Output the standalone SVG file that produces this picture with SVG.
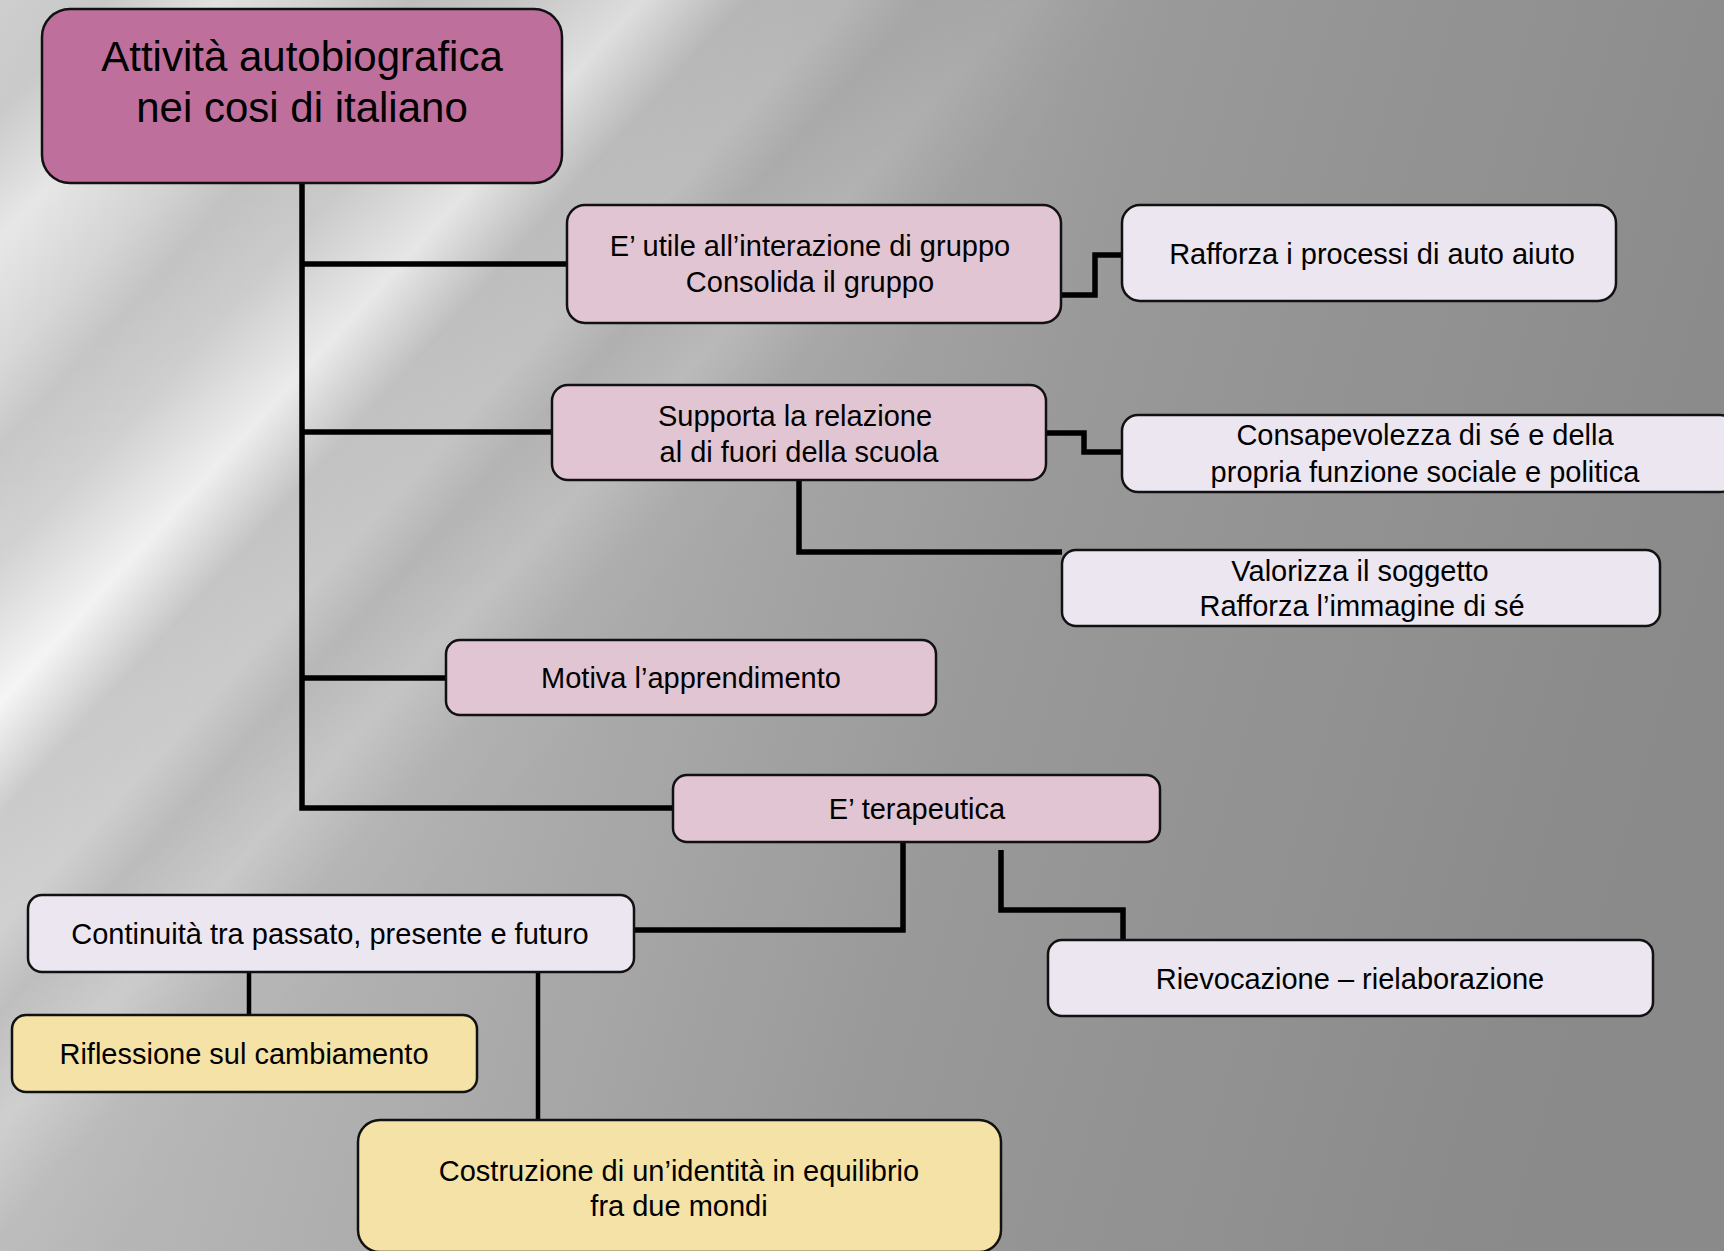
<svg xmlns="http://www.w3.org/2000/svg" width="1724" height="1251" viewBox="0 0 1724 1251">
<defs>
<linearGradient id="bg" x1="0" y1="0" x2="1724" y2="500" gradientUnits="userSpaceOnUse">
<stop offset="0" stop-color="#c6c6c6"/>
<stop offset="0.35" stop-color="#b0b0b0"/>
<stop offset="0.65" stop-color="#989898"/>
<stop offset="1" stop-color="#8a8a8a"/>
</linearGradient>
<linearGradient id="streak" x1="0" y1="0" x2="700" y2="640" gradientUnits="userSpaceOnUse">
<stop offset="0" stop-color="#fff" stop-opacity="0.15"/>
<stop offset="0.08" stop-color="#fff" stop-opacity="0.1"/>
<stop offset="0.17" stop-color="#fff" stop-opacity="0.6"/>
<stop offset="0.26" stop-color="#fff" stop-opacity="0.35"/>
<stop offset="0.32" stop-color="#fff" stop-opacity="0.1"/>
<stop offset="0.4" stop-color="#fff" stop-opacity="0.3"/>
<stop offset="0.5" stop-color="#fff" stop-opacity="0.85"/>
<stop offset="0.58" stop-color="#fff" stop-opacity="0.2"/>
<stop offset="0.66" stop-color="#fff" stop-opacity="0.3"/>
<stop offset="0.72" stop-color="#fff" stop-opacity="0.05"/>
<stop offset="0.8" stop-color="#fff" stop-opacity="0.3"/>
<stop offset="0.88" stop-color="#fff" stop-opacity="0.05"/>
<stop offset="1" stop-color="#fff" stop-opacity="0"/>
</linearGradient>
<linearGradient id="fade" x1="0" y1="0" x2="1724" y2="0" gradientUnits="userSpaceOnUse">
<stop offset="0" stop-color="#fff" stop-opacity="1"/>
<stop offset="0.45" stop-color="#fff" stop-opacity="0.6"/>
<stop offset="0.7" stop-color="#fff" stop-opacity="0"/>
</linearGradient>
<mask id="m"><rect width="1724" height="1251" fill="url(#fade)"/></mask>
</defs>
<style>
.box{stroke:#111;stroke-width:2.5}
.root{fill:#be6f9b}
.pink{fill:#e2c5d3}
.lav{fill:#ebe6f0}
.yel{fill:#f5e2a6}
text{font-family:"Liberation Sans",Arial,sans-serif;fill:#000;text-anchor:middle}
.t{font-size:29px}
.tt{font-size:42px}
.c{fill:none;stroke:#000;stroke-width:5.5;stroke-linejoin:miter}
.c2{fill:none;stroke:#000;stroke-width:4.5}
</style>
<rect width="1724" height="1251" fill="url(#bg)"/>
<rect width="1724" height="1251" fill="url(#streak)" mask="url(#m)"/>

<g id="connectors">
<path class="c" d="M302 183 V808 H672"/>
<path class="c" d="M302 264 H567"/>
<path class="c" d="M302 432 H552"/>
<path class="c" d="M302 678 H446"/>
<path class="c" d="M1061 295 H1095 V255 H1121"/>
<path class="c" d="M1046 433 H1084 V452 H1121"/>
<path class="c" d="M799 480 V552 H1062"/>
<path class="c" d="M903 842 V930 H634"/>
<path class="c" d="M1001 850 V910 H1123 V940"/>
<path class="c2" d="M249 972 V1015"/>
<path class="c2" d="M538 972 V1119"/>
</g>

<g id="root">
<rect class="box root" x="42" y="9" width="520" height="174" rx="28"/>
<text class="tt" x="302" y="71">Attività autobiografica</text>
<text class="tt" x="302" y="122">nei cosi di italiano</text>
</g>
<g id="n1">
<rect class="box pink" x="567" y="205" width="494" height="118" rx="18"/>
<text class="t" x="810" y="256">E’ utile all’interazione di gruppo</text>
<text class="t" x="810" y="292">Consolida il gruppo</text>
</g>
<g id="n1a">
<rect class="box lav" x="1122" y="205" width="494" height="96" rx="18"/>
<text class="t" x="1372" y="264">Rafforza i processi di auto aiuto</text>
</g>
<g id="n2">
<rect class="box pink" x="552" y="385" width="494" height="95" rx="16"/>
<text class="t" x="795" y="426">Supporta la relazione</text>
<text class="t" x="799" y="462">al di fuori della scuola</text>
</g>
<g id="n2a">
<rect class="box lav" x="1122" y="415" width="614" height="77" rx="16"/>
<text class="t" x="1425" y="445">Consapevolezza di sé e della</text>
<text class="t" x="1425" y="482">propria funzione sociale e politica</text>
</g>
<g id="n2b">
<rect class="box lav" x="1062" y="550" width="598" height="76" rx="14"/>
<text class="t" x="1360" y="581">Valorizza il soggetto</text>
<text class="t" x="1362" y="616">Rafforza l’immagine di sé</text>
</g>
<g id="n3">
<rect class="box pink" x="446" y="640" width="490" height="75" rx="14"/>
<text class="t" x="691" y="688">Motiva l’apprendimento</text>
</g>
<g id="n4">
<rect class="box pink" x="673" y="775" width="487" height="67" rx="14"/>
<text class="t" x="917" y="819">E’ terapeutica</text>
</g>
<g id="n4a">
<rect class="box lav" x="28" y="895" width="606" height="77" rx="14"/>
<text class="t" x="330" y="944">Continuità tra passato, presente e futuro</text>
</g>
<g id="n4b">
<rect class="box lav" x="1048" y="940" width="605" height="76" rx="14"/>
<text class="t" x="1350" y="989">Rievocazione – rielaborazione</text>
</g>
<g id="n5">
<rect class="box yel" x="12" y="1015" width="465" height="77" rx="14"/>
<text class="t" x="244" y="1064">Riflessione sul cambiamento</text>
</g>
<g id="n6">
<rect class="box yel" x="358" y="1120" width="643" height="132" rx="22"/>
<text class="t" x="679" y="1181">Costruzione di un’identità in equilibrio</text>
<text class="t" x="679" y="1216">fra due mondi</text>
</g>
</svg>
